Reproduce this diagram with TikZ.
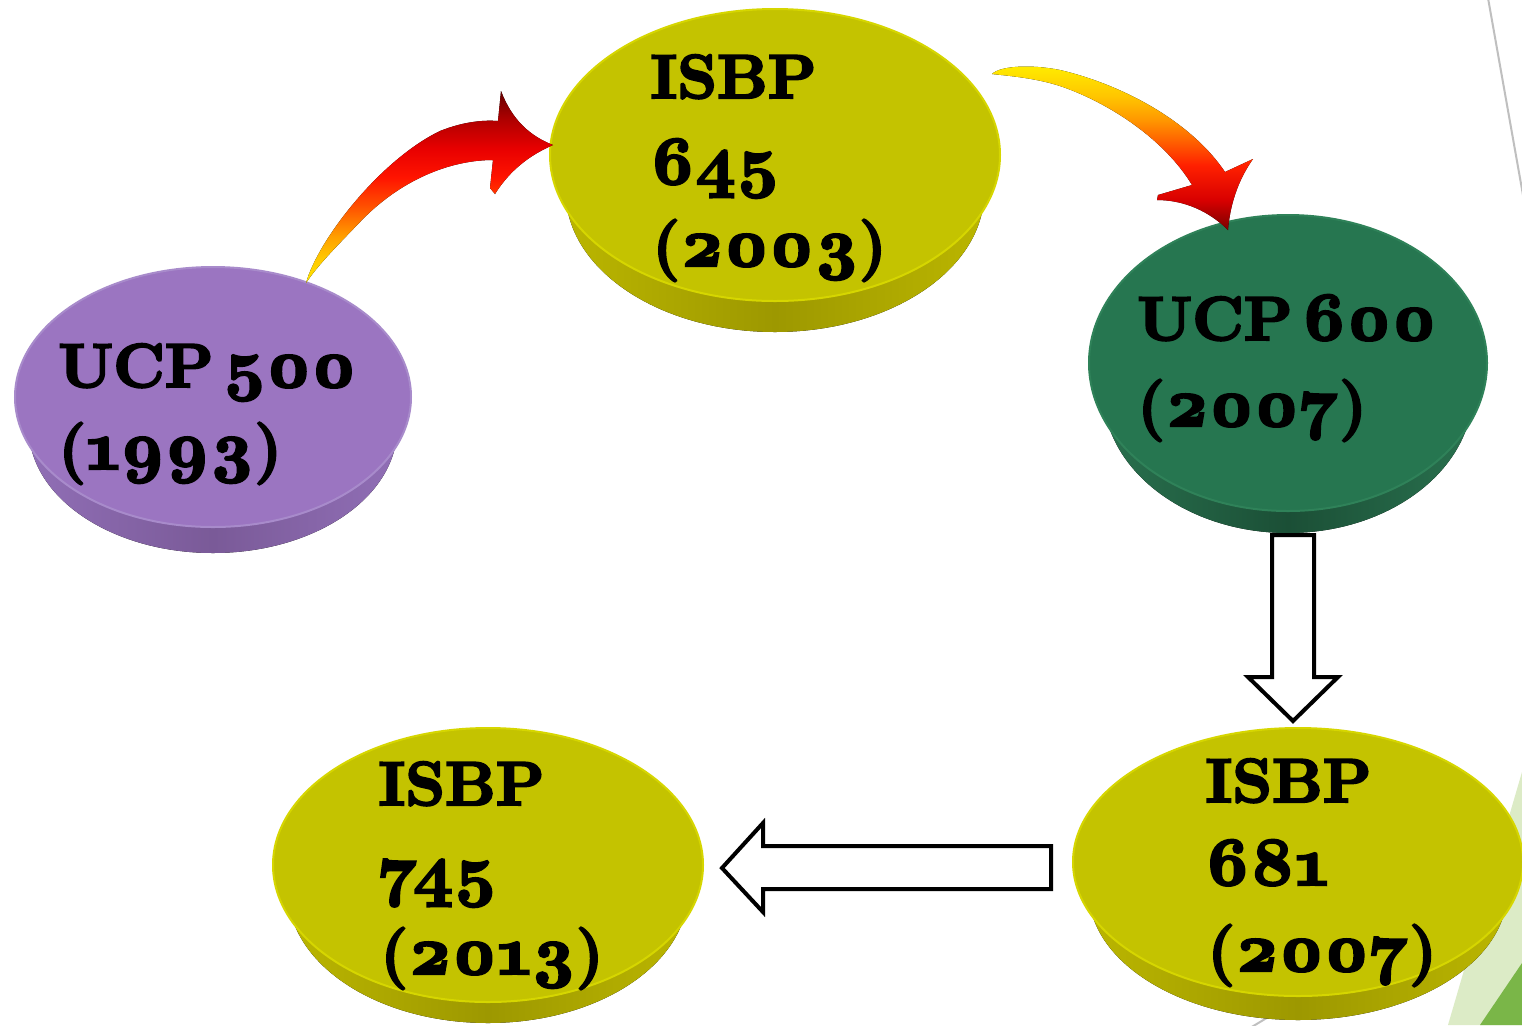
\documentclass[tikz,border=0pt]{standalone}
\usepackage{fontspec}
\usetikzlibrary{shapes.geometric}
\newfontfamily\dfont{lmroman10-bold.otf}[Numbers=OldStyle,FakeBold=3.5]
\newcommand\dg[1]{{\fontsize{34.5}{34.5}\selectfont #1}}
% disk colours: pf face, ps side, pd side centre, pr rim
\definecolor{pfpurple}{HTML}{9B75C1}\definecolor{pspurple}{HTML}{9270B8}
\definecolor{pdpurple}{HTML}{7A5A98}\definecolor{prpurple}{HTML}{A88BCB}
\definecolor{pfyellow}{HTML}{C4C300}\definecolor{psyellow}{HTML}{BDB800}
\definecolor{pdyellow}{HTML}{9D9800}\definecolor{pryellow}{HTML}{D6D600}
\definecolor{pfgreen}{HTML}{267650}\definecolor{psgreen}{HTML}{2A7350}
\definecolor{pdgreen}{HTML}{1B4F36}\definecolor{prgreen}{HTML}{2F8259}
\definecolor{lightg}{HTML}{DCEBC6}\definecolor{darkg}{HTML}{7AB648}
\definecolor{fya}{HTML}{FFE600}\definecolor{fyb}{HTML}{FFC800}
\definecolor{foa}{HTML}{FFA000}\definecolor{fob}{HTML}{FF5000}
\definecolor{fra}{HTML}{FF1400}\definecolor{frb}{HTML}{E80000}
\definecolor{fda}{HTML}{B00000}\definecolor{fdb}{HTML}{650000}
\definecolor{gya}{HTML}{FFEE00}\definecolor{gyb}{HTML}{FFC400}
\definecolor{goa}{HTML}{FF9600}\definecolor{gob}{HTML}{FF5A00}
\definecolor{gra}{HTML}{FF2000}\definecolor{grb}{HTML}{D80000}
\definecolor{gda}{HTML}{7A0000}
\pgfdeclareverticalshading{fireup}{100bp}{color(0bp)=(fya); color(25bp)=(fya);
 color(31.5bp)=(fyb); color(37bp)=(foa); color(45bp)=(fob); color(52.5bp)=(fra);
 color(60bp)=(frb); color(67.5bp)=(fda); color(75bp)=(fdb); color(100bp)=(fdb)}
\pgfdeclareverticalshading{firedown}{100bp}{color(0bp)=(gda); color(25bp)=(gda);
 color(34bp)=(grb); color(44.5bp)=(gra); color(51bp)=(gob); color(58bp)=(goa);
 color(65bp)=(gyb); color(75bp)=(gya); color(100bp)=(gya)}
\tikzset{
 disk/.style={ellipse, inner sep=0pt, outer sep=0pt, line width=1pt},
 lbl/.style={anchor=base west, inner sep=0pt, font=\dfont\fontsize{31}{31}\selectfont},
 blockarrow/.style={fill=white, draw=black, line width=2pt, line join=miter},
 grayline/.style={draw=black!25, line width=1pt}
}
\newcommand\puck[7]{%
 \pgfmathsetmacro\pkrx{#4/2}%
 \pgfmathsetmacro\pkry{#5/2}%
 \pgfmathsetmacro\pkbrx{0.93*#4/2}%
 \pgfmathsetmacro\pkbry{0.96*#5/2}%
 \pgfmathsetmacro\pkoff{#6-#3-0.96*#5}%
 \pgfmathsetmacro\pkbx{#2-0.93*#4}%
 \pgfmathsetmacro\pkby{#3+\pkoff}%
 \fill[left color=ps#7,right color=ps#7,middle color=pd#7] (#2-#4,#3) -- (\pkbx,\pkby)
   arc[start angle=180,end angle=360,x radius=\pkbrx pt,y radius=\pkbry pt] -- (#2+#4,#3)
   arc[start angle=0,end angle=180,x radius=\pkrx pt,y radius=\pkry pt] -- cycle;
 \node[disk, minimum width=#4 pt, minimum height=#5 pt, fill=pf#7, draw=pr#7] (#1) at (#2,#3) {};
}
\begin{document}
\begin{tikzpicture}[x=0.5pt,y=-0.5pt]
\useasboundingbox (0,0) rectangle (1522,1025);
\fill[white] (0,0) rectangle (1522,1025);
\clip (0,0) rectangle (1522,1025);
% background decoration
\draw[grayline] (1488,-2) -- (1523,195);
\draw[grayline] (1250,1028) -- (1290,1004);
\fill[lightg] (1522,772) -- (1448,1025) -- (1522,1025) -- cycle;
\fill[darkg] (1522,963) -- (1480,1025) -- (1522,1025) -- cycle;
% disks
\puck{d1}{213}{397}{198}{130}{553}{purple}
\puck{d2}{775}{155}{225}{146}{332}{yellow}
\puck{d3}{1288}{363}{199}{148}{533}{green}
\puck{d4}{488}{865}{215}{137}{1023}{yellow}
\puck{d5}{1298}{862}{225}{134}{1020}{yellow}
% labels
\node[lbl] (t1a) at (58,387) {UCP\hspace{0.15em}\dg{500}};
\node[lbl] (t1b) at (58,469) {(\dg{1993})};
\node[lbl] (t2a) at (650,98) {ISBP};
\node[lbl] (t2b) at (650,184) {\dg{645}};
\node[lbl] (t2c) at (652,266) {(\dg{2003})};
\node[lbl] (t3a) at (1137,340) {UCP\hspace{0.15em}\dg{600}};
\node[lbl] (t3b) at (1137,426) {(\dg{2007})};
\node[lbl] (t4a) at (378,805) {ISBP};
\node[lbl] (t4b) at (378,893) {\dg{745}};
\node[lbl] (t4c) at (380,974) {(\dg{2013})};
\node[lbl] (t5a) at (1205,802) {ISBP};
\node[lbl] (t5b) at (1205,885) {\dg{681}};
\node[lbl] (t5c) at (1207,971) {(\dg{2007})};
% curved arrow d1 -> d2
\fill[shading=fireup] (306,283) .. controls (318,240) and (380,160) .. (440,131)
  .. controls (465,121) and (485,120) .. (498,121) -- (501,91)
  .. controls (512,120) and (530,136) .. (553,145)
  .. controls (530,155) and (510,170) .. (495,194) -- (490,188) -- (493,160)
  .. controls (450,160) and (400,180) .. (360,222)
  .. controls (335,248) and (318,265) .. (306,283) -- cycle;
% curved arrow d2 -> d3
\fill[shading=firedown] (992,74) .. controls (1000,66) and (1030,64) .. (1060,70)
  .. controls (1120,84) and (1190,120) .. (1225,172) -- (1253,159)
  .. controls (1238,180) and (1230,205) .. (1228,230)
  .. controls (1210,212) and (1185,200) .. (1157,200) -- (1158,195) -- (1192,185)
  .. controls (1165,140) and (1110,103) .. (1060,86)
  .. controls (1035,78) and (1010,76) .. (992,74) -- cycle;
% block arrows d3 -> d5 and d5 -> d4
\draw[blockarrow] (1272,535) -- (1314,535) -- (1314,677) -- (1338,677) -- (1293,721)
  -- (1248,677) -- (1272,677) -- cycle;
\draw[blockarrow] (1051,846) -- (763,846) -- (763,823) -- (722,868) -- (763,912)
  -- (763,889) -- (1051,889) -- cycle;
\end{tikzpicture}
\end{document}
